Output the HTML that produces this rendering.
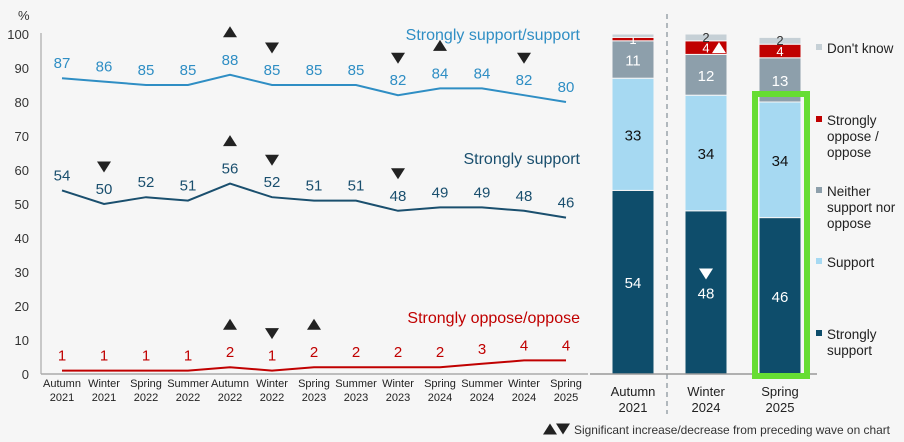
<!DOCTYPE html>
<html><head><meta charset="utf-8"><style>
body{margin:0;background:#f6f6f6;font-family:"Liberation Sans",sans-serif;}
svg{display:block}
</style></head><body>
<svg id="c" width="904" height="442" font-family="Liberation Sans, sans-serif"></svg>
<script>
const cats=["Autumn|2021","Winter|2021","Spring|2022","Summer|2022","Autumn|2022","Winter|2022","Spring|2023","Summer|2023","Winter|2023","Spring|2024","Summer|2024","Winter|2024","Spring|2025"];
const totalSupport=[87,86,85,85,88,85,85,85,82,84,84,82,80];
const stronglySupport=[54,50,52,51,56,52,51,51,48,49,49,48,46];
const oppose=[1,1,1,1,2,1,2,2,2,2,3,4,4];
const yTicks=[0,10,20,30,40,50,60,70,80,90,100];
const sigTotal=[[4,"up"],[5,"down"],[8,"down"],[9,"up"],[11,"down"]];
const sigStrong=[[1,"down"],[4,"up"],[5,"down"],[8,"down"]];
const sigOppose=[[4,"up"],[5,"down"],[6,"up"]];
const barCats=["Autumn|2021","Winter|2024","Spring|2025"];
const barStrong=[54,48,46];
const barSupport=[33,34,34];
const barNeither=[11,12,13];
const barOppose=[1,4,4];
const barDK=[1,2,2];
const barDKLabels=["","2","2"];
const barOpLabels=["1","4","4"];

const NS="http://www.w3.org/2000/svg";
const svg=document.getElementById('c');
function el(t,a,txt){const e=document.createElementNS(NS,t);for(const k in a)e.setAttribute(k,a[k]);if(txt!==undefined)e.textContent=txt;svg.appendChild(e);return e;}
const y=v=>374-v*3.4;
const x=i=>62+i*42;

let e;
e=el('text',{x:18,y:20,'font-size':13,fill:'#333'},'%');


yTicks.forEach(t=>{
 e=el('text',{x:29,y:y(t)+5,'text-anchor':'end','font-size':13,fill:'#333'},t);
 
 
});
e=el('line',{x1:41,y1:33,x2:41,y2:374,stroke:'#999','stroke-width':1});


e=el('line',{x1:41,y1:374,x2:588,y2:374,stroke:'#aaa','stroke-width':1.5});


cats.forEach((c,i)=>{
 const p=c.split('|');
 e=el('text',{x:x(i),y:387,'text-anchor':'middle','font-size':11,fill:'#222'},p[0]);
 
 
 e=el('text',{x:x(i),y:401,'text-anchor':'middle','font-size':11,fill:'#222'},p[1]);
 
 
});
function tri(cx,cy,dir,fill){
 const w=7,h=11;
 const pts=dir==="up"?`${cx-w},${cy+h/2} ${cx+w},${cy+h/2} ${cx},${cy-h/2}`:`${cx-w},${cy-h/2} ${cx+w},${cy-h/2} ${cx},${cy+h/2}`;
 const t=el('polygon',{points:pts,fill:fill||'#222'});
 return t;
}
function series(vals,color,name,sig,labelOff){
 e=el('polyline',{points:vals.map((v,i)=>x(i)+','+y(v)).join(' '),fill:'none',stroke:color,'stroke-width':2});
 
 
 vals.forEach((v,i)=>{
  e=el('text',{x:x(i),y:y(v)-labelOff,'text-anchor':'middle','font-size':15,fill:color},v);
  
  
 });
 sig.forEach(s=>{
  const v=vals[s[0]];
  e=tri(x(s[0]),y(v)-labelOff-(s[1]==="up"?33:27),s[1]);
  
  
 });
}
series(totalSupport,'#2f8ec4','total-support',sigTotal,10);
series(stronglySupport,'#1a4f6e','strongly-support',sigStrong,10);
series(oppose,'#c00000','oppose',sigOppose,10);
e=el('text',{x:580,y:40,'text-anchor':'end','font-size':16,fill:'#2f8ec4'},'Strongly support/support');


e=el('text',{x:580,y:164,'text-anchor':'end','font-size':16,fill:'#1a4f6e'},'Strongly support');


e=el('text',{x:580,y:323,'text-anchor':'end','font-size':16,fill:'#c00000'},'Strongly oppose/oppose');



e=el('line',{x1:667,y1:14,x2:667,y2:414,stroke:'#9aa4aa','stroke-width':1.5,'stroke-dasharray':'5,4'});


const bx=[612,685,759],bw=42;
const layers=[[barStrong,'#0e4d6b','strongly-support','#fff'],[barSupport,'#a6d9f2','support','#111'],[barNeither,'#8d9fab','neither','#fff'],[barOppose,'#c00000','oppose','#fff'],[barDK,'#c6d0d6','dont-know','#333']];
barCats.forEach((c,i)=>{
 let base=0;
 layers.forEach((L,li)=>{
  const v=L[0][i];
  const top=y(base+v);
  e=el('rect',{x:bx[i],y:top,width:bw,height:y(base)-top,fill:L[1],stroke:'#f6f6f6','stroke-width':1});
  
  
  let lab=li===3?barOpLabels[i]:li===4?barDKLabels[i]:String(v);
  const fs=li>=3?13:15;
  if(lab){
   const cy=(top+y(base))/2+5;
   e=el('text',{x:bx[i]+bw/2,y:li===4?y(base)+1:cy+(li===3?0:1),'text-anchor':'middle','font-size':fs,fill:L[3]},lab);
   
   
  }
  base+=v;
 });
 const p=c.split('|');
 e=el('text',{x:bx[i]+bw/2,y:396,'text-anchor':'middle','font-size':13,fill:'#222'},p[0]);
 
 
 e=el('text',{x:bx[i]+bw/2,y:412,'text-anchor':'middle','font-size':13,fill:'#222'},p[1]);
 
 
});
e=tri(706,y(barStrong[1])-64+3*3.4*0,'down','#fff');
e.remove();
e=tri(706,274,'down','#fff');


e=tri(719,y(barStrong[1]+barSupport[1]+barNeither[1]+barOppose[1]/2),'up','#fff');


e=el('line',{x1:590,y1:374,x2:817,y2:374,stroke:'#999','stroke-width':1.5});


e=el('rect',{x:755,y:94,width:52,height:282,fill:'none',stroke:'#66dd33','stroke-width':6});


const leg=[[49,'#c6d0d6',["Don't know"]],[121,'#c00000',["Strongly","oppose /","oppose"]],[192,'#8d9fab',["Neither","support nor","oppose"]],[263,'#a6d9f2',["Support"]],[335,'#0e4d6b',["Strongly","support"]]];
leg.forEach(L=>{
 e=el('rect',{x:816,y:L[0]-5,width:6,height:6,fill:L[1]});
 
 
 L[2].forEach((t,k)=>{
  e=el('text',{x:827,y:L[0]+4+k*16,'font-size':13.5,fill:'#222'},t);
  
  
 });
});
e=tri(550,429,'up');


e=tri(563,429,'down');


e=el('text',{x:574,y:434,'font-size':12,fill:'#333',textLength:316,lengthAdjust:'spacingAndGlyphs'},'Significant increase/decrease from preceding wave on chart');


</script>
</body></html>
